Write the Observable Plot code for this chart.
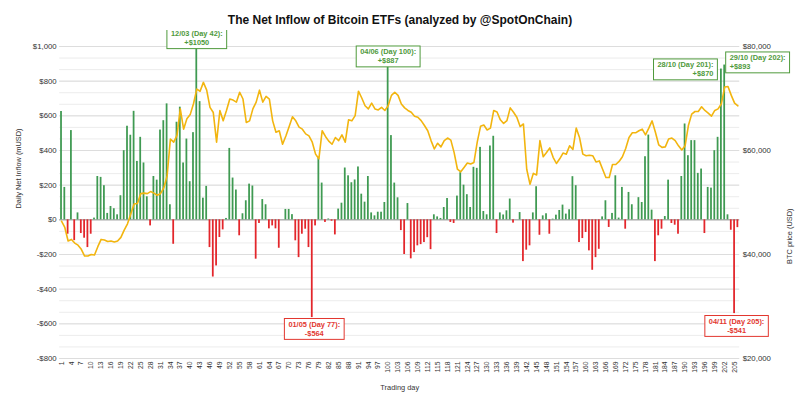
<!DOCTYPE html>
<html>
<head>
<meta charset="utf-8">
<script src="https://cdn.jsdelivr.net/npm/d3@7"></script>
<script src="https://cdn.jsdelivr.net/npm/@observablehq/plot@0.6"></script>
<style>
  body { margin: 0; background: #fff; font-family: "Liberation Sans", Arial, sans-serif; }
  #title { height: 30px; box-sizing: border-box; padding-top: 13px; line-height: 14px; text-align: center; font-weight: bold; font-size: 12px; color: #111; width: 800px; }
  #chart svg { display: block; }
</style>
</head>
<body>
<div id="title">The Net Inflow of Bitcoin ETFs (analyzed by @SpotOnChain)</div>
<div id="chart"></div>
<script>
// ---- data ----
const days = d3.range(1, 207); // trading day categories 1..206
const netInflow = [
  625,187,-83,515,-120,40,-79,-106,-160,-83,
  10,250,245,197,37,77,64,29,139,399,
  540,488,626,337,476,328,133,-35,250,229,
  518,572,669,87,-141,563,650,328,466,220,
  503,1050,682,125,193,-160,-330,-266,-102,-58,
  8,412,241,172,-92,35,110,206,195,-227,
  -21,117,87,-52,-35,-52,-164,0,60,60,
  30,-121,-218,-83,-54,-160,-564,-35,357,212,
  -15,5,-8,-87,62,96,299,254,214,230,
  305,148,102,250,40,23,44,44,100,887,
  486,212,127,-62,-200,94,-225,-189,-150,-143,
  -131,-103,-172,29,17,8,71,123,-15,-21,
  137,272,200,145,71,303,297,418,48,29,
  426,482,-79,40,28,52,120,-19,0,42,
  -241,-175,-150,40,191,-89,23,35,-83,4,
  27,54,85,33,58,249,197,-131,-108,-73,
  -179,-291,-218,-170,17,110,-44,37,254,10,
  187,-54,158,87,0,128,100,364,489,56,
  -241,-92,-54,19,229,-21,-31,-83,250,553,
  370,457,457,268,293,-79,187,183,399,476,
  870,893,29,-60,-541,-45
];
const btcPrice = [
  46400,45200,42600,42900,42200,41800,41000,39700,39700,40000,
  39900,41500,42900,42800,42500,42600,42400,42600,43300,44700,
  45900,47800,49700,49800,51700,51800,51700,52100,51800,51400,
  51700,52800,55100,62200,61600,62900,68000,64100,66100,66900,
  69000,71800,71400,73100,71600,68300,67300,61600,67700,65700,
  67700,69900,69700,69300,71200,69900,65400,65700,68000,69300,
  71600,69300,70400,69900,65700,63500,63800,61200,62800,64600,
  66500,65700,64500,64100,63200,62800,61600,59300,58400,63800,
  62700,61800,61200,62500,61900,63000,61600,65900,65700,66700,
  71400,70100,68600,68000,69100,68000,67800,68300,67700,68600,
  70600,71200,70600,68950,68200,67700,67350,66600,66400,65750,
  64800,63800,61900,60300,61400,60700,61900,62400,62000,59600,
  56400,55900,56750,57600,57400,57700,61600,64650,64900,63950,
  64300,67700,67400,65900,65200,65750,68200,67350,66400,64600,
  65100,56400,53500,55600,55300,61900,58800,59600,60500,58700,
  57500,58400,59500,59300,60900,60200,64300,62500,59300,59000,
  59100,59000,57800,58000,56400,54800,54800,57300,57300,57900,
  58800,60400,62500,63400,63400,63800,64100,63000,64300,65700,
  63500,61100,60600,60700,62200,62400,61900,60900,60100,60900,
  64800,67000,67500,67500,68400,67700,67200,66600,67700,68000,
  69000,72200,72300,70600,69100,68600
];
const leftTicks = [1000, 800, 600, 400, 200, 0, -200, -400, -600, -800];
const rightTicks = [20000, 40000, 60000, 80000];
const xTickDays = days.filter(d => (d - 1) % 3 === 0);
const annotDays = [42, 100, 201, 202, 77, 205];
const annotDates = ["12/03", "04/06", "28/10", "29/10", "01/05", "04/11"];

// ---- styles / placement ----
const leftDomain = [-800, 1000];
const rightDomain = [20000, 80000];
const GREEN = "#3f9a52", RED = "#e3262b", GOLD = "#f2b50f";
const ANN_GREEN = "#4f9a3c", ANN_RED = "#e2372f";
const placement = {
  42:  {dx: 0,  dy: 0,   anchor: "middle"},
  100: {dx: 0,  dy: -10, anchor: "middle"},
  201: {dx: -8, dy: 0,   anchor: "end"},
  202: {dx: 5,  dy: -3,  anchor: "start"},
  77:  {dx: 2,  dy: 11,  anchor: "middle"},
  205: {dx: 2,  dy: 12,  anchor: "middle"}
};

const priceToLeft = d3.scaleLinear().domain(rightDomain).range(leftDomain);
const rows = days.map((d, i) => ({day: d, flow: netInflow[i], price: btcPrice[i]}));
const annots = annotDays.map((d, i) => {
  const v = netInflow[d - 1];
  return {day: d, value: v, text: `${annotDates[i]} (Day ${d}):\n${v >= 0 ? "+" : "-"}$${Math.abs(v)}`};
});
const grid = d3.range(0, 28).map(i => leftDomain[0] + i * 200 / 3);
const majorGrid = leftTicks;
const money = v => (v < 0 ? "-$" : "$") + d3.format(",")(Math.abs(v));

const annotMarks = annots.map(a => {
  const p = placement[a.day];
  return Plot.text([a], {
    x: "day", y: "value", text: "text",
    dx: p.dx, dy: p.dy, textAnchor: p.anchor, lineAnchor: "middle",
    lineHeight: 1.2, fontSize: 7.4, fontWeight: "bold",
    fill: a.value >= 0 ? ANN_GREEN : ANN_RED
  });
});

const chart = Plot.plot({
  width: 800,
  height: 377,
  marginLeft: 59.2,
  marginRight: 60.8,
  marginTop: 16,
  marginBottom: 49,
  style: {fontFamily: "'Liberation Sans', Arial, sans-serif", fontSize: "8px", color: "#333", background: "#fff"},
  x: {type: "band", domain: days, padding: 0.1, label: null},
  y: {domain: leftDomain, label: null},
  marks: [
    Plot.ruleY(grid, {stroke: "#ececec", strokeWidth: 1}),
    Plot.ruleY(majorGrid, {stroke: "#dddddd", strokeWidth: 1}),
    Plot.ruleY([0], {stroke: "#9a9a9a", strokeWidth: 1}),
    Plot.barY(rows, {x: "day", y: "flow", fill: d => d.flow >= 0 ? GREEN : RED, insetLeft: 0.6, insetRight: 0.6}),
    Plot.line(rows, {x: "day", y: d => priceToLeft(d.price), stroke: GOLD, strokeWidth: 1.6, curve: "linear"}),
    Plot.axisY(leftTicks, {anchor: "left", tickSize: 0, tickPadding: 3, tickFormat: money, label: null, fontSize: 7.8, fill: "#333"}),
    Plot.axisY(rightTicks.map(p => priceToLeft(p)), {anchor: "right", tickSize: 0, tickPadding: 3, tickFormat: v => "$" + d3.format(",")(Math.round(priceToLeft.invert(v))), label: null, fontSize: 7.8, fill: "#333"}),
    Plot.axisX(xTickDays, {anchor: "bottom", tickSize: 0, tickPadding: 3, tickRotate: -90, label: null, fontSize: 6.8, fill: "#333"}),
    Plot.text(["Daily Net Inflow (mUSD)"], {text: d => d, frameAnchor: "left", rotate: -90, dx: -41, dy: 6, fontSize: 7.4, fill: "#333"}),
    Plot.text(["BTC price (USD)"], {text: d => d, frameAnchor: "right", rotate: -90, dx: 50, dy: 6, fontSize: 7.4, fill: "#333"}),
    Plot.text(["Trading day"], {text: d => d, frameAnchor: "bottom", dy: 31, fontSize: 7.4, fill: "#333"}),
    ...annotMarks
  ]
});

document.getElementById("chart").append(chart);

// draw boxes behind the multi-line annotation labels
d3.select(chart).selectAll("text").filter(function () {
  return this.querySelector("tspan") !== null;
}).each(function () {
  const bb = this.getBBox();
  const color = this.getAttribute("fill") || this.parentNode.getAttribute("fill");
  const r = d3.select(this.parentNode).insert("rect", () => this)
    .attr("x", bb.x - 4).attr("y", bb.y - 1.5)
    .attr("width", bb.width + 8).attr("height", bb.height + 3)
    .attr("fill", "white").attr("stroke", color).attr("stroke-width", 1);
  const t = this.getAttribute("transform");
  if (t) r.attr("transform", t);
});
</script>
</body>
</html>
